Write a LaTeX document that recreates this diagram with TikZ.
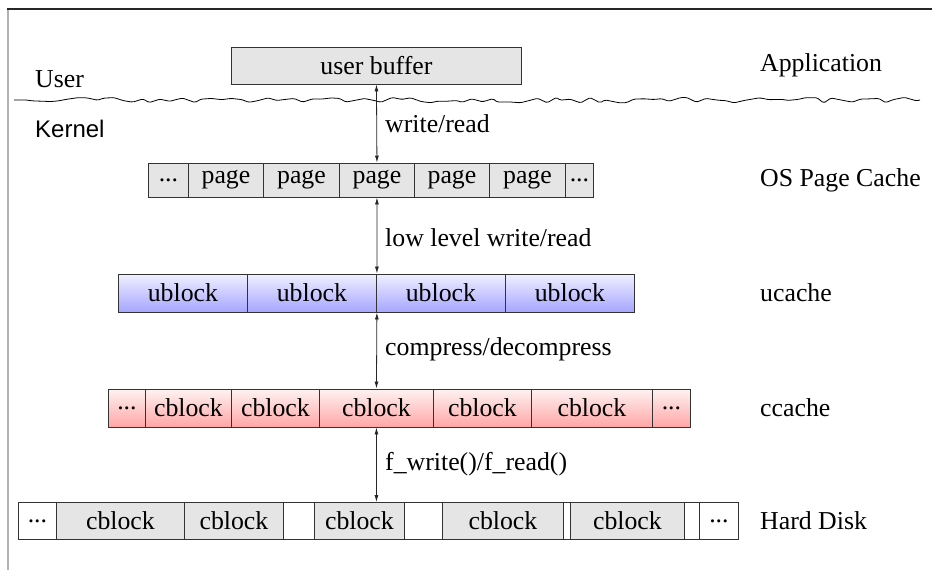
\documentclass[tikz,border=0pt]{standalone}
\usepackage{fontspec}
\setmainfont{Liberation Serif}
\newfontfamily\kernfont{Liberation Sans}
\usetikzlibrary{arrows.meta,decorations.pathmorphing}
\begin{document}
\begin{tikzpicture}[x=1pt,y=-1pt,
  every node/.style={font=\fontsize{25.8}{30}\selectfont},
  cell/.style={draw=black!80, line width=0.9pt, inner sep=0pt, anchor=west},
  gcell/.style={cell, fill=gray!20},
  wcell/.style={cell, fill=white},
  ucell/.style={cell, top color=blue!6, bottom color=blue!35!white},
  ccell/.style={cell, top color=red!5, bottom color=red!35!white},
  lbl/.style={anchor=west, inner sep=0pt},
  io/.style={{Latex[length=7pt,width=4pt]}-{Latex[length=7pt,width=4pt]}, line width=0.8pt, black!85}
]
\useasboundingbox (0,0) rectangle (932,570);
% frame
\draw[gray!60, line width=1.6pt] (8,570) -- (8,9);
\draw[black!85, line width=1.4pt] (7.2,9) -- (932,9);

% user buffer
\node[gcell, minimum width=290pt, minimum height=37pt] (ub) at (231,65.5) {user buffer};
\node[lbl] (user) at (35,79) {User};
\node[lbl, font=\kernfont\fontsize{24}{28}\selectfont] (kern) at (35,129) {Kernel};
\node[lbl] (app) at (760,65) {Application};

% wavy line
\pgfmathsetseed{11}
\coordinate (wl) at (14,100);
\coordinate (wr) at (920,100);
\draw[line width=0.8pt, decorate, decoration={random steps, segment length=9pt, amplitude=3pt}, rounded corners=1.5pt] (wl) -- (wr);

% page cache
\begin{scope}[every node/.append style={minimum height=34pt}]
\node[gcell, minimum width=40pt] (p0) at (148,180) {...};
\node[gcell, minimum width=75pt] (p1) at (188,180) {page};
\node[gcell, minimum width=76pt] (p2) at (263,180) {page};
\node[gcell, minimum width=75pt] (p3) at (339,180) {page};
\node[gcell, minimum width=75pt] (p4) at (414,180) {page};
\node[gcell, minimum width=76pt] (p5) at (489,180) {page};
\node[gcell, minimum width=28pt] (p6) at (565,180) {...};
\end{scope}
\node[lbl] (osl) at (760,180) {OS Page Cache};

% ucache
\begin{scope}[every node/.append style={minimum height=38pt, minimum width=129pt}]
\node[ucell] (u1) at (118,293) {ublock};
\node[ucell] (u2) at (247,293) {ublock};
\node[ucell] (u3) at (376,293) {ublock};
\node[ucell] (u4) at (505,293) {ublock};
\end{scope}
\node[lbl] (ucl) at (760,293) {ucache};

% ccache
\begin{scope}[every node/.append style={minimum height=38pt}]
\node[ccell, minimum width=37pt] (c0) at (108,408) {...};
\node[ccell, minimum width=86pt] (c1) at (145,408) {cblock};
\node[ccell, minimum width=88pt] (c2) at (231,408) {cblock};
\node[ccell, minimum width=114pt] (c3) at (319,408) {cblock};
\node[ccell, minimum width=98pt] (c4) at (433,408) {cblock};
\node[ccell, minimum width=121pt] (c5) at (531,408) {cblock};
\node[ccell, minimum width=38pt] (c6) at (652,408) {...};
\end{scope}
\node[lbl] (ccl) at (760,408) {ccache};

% hard disk
\begin{scope}[every node/.append style={minimum height=37pt}]
\node[wcell, minimum width=38pt] (d0) at (18,521) {...};
\node[gcell, minimum width=128pt] (d1) at (56,521) {cblock};
\node[gcell, minimum width=99pt] (d2) at (184,521) {cblock};
\node[wcell, minimum width=31pt] (d3) at (283,521) {};
\node[gcell, minimum width=90pt] (d4) at (314,521) {cblock};
\node[wcell, minimum width=38pt] (d5) at (404,521) {};
\node[gcell, minimum width=121pt] (d6) at (442,521) {cblock};
\node[wcell, minimum width=7pt] (d7) at (563,521) {};
\node[gcell, minimum width=114pt] (d8) at (570,521) {cblock};
\node[wcell, minimum width=15pt] (d9) at (684,521) {};
\node[wcell, minimum width=39pt] (d10) at (699,521) {...};
\end{scope}
\node[lbl] (hdl) at (760,521) {Hard Disk};

% arrows
\draw[io] (ub.south) -- (p3.north);
\node[lbl] (a1) at (385,124) {write/read};
\draw[io] (p3.south) -- (u2.north east);
\node[lbl] (a2) at (385,238) {low level write/read};
\draw[io] (u2.south east) -- (c3.north);
\node[lbl] (a3) at (385,349) {compress/decompress};
\draw[io] (c3.south) -- (d4.north -| c3.south);
\node[lbl] (a4) at (385,464) {f\_write()/f\_read()};
\end{tikzpicture}
\end{document}
